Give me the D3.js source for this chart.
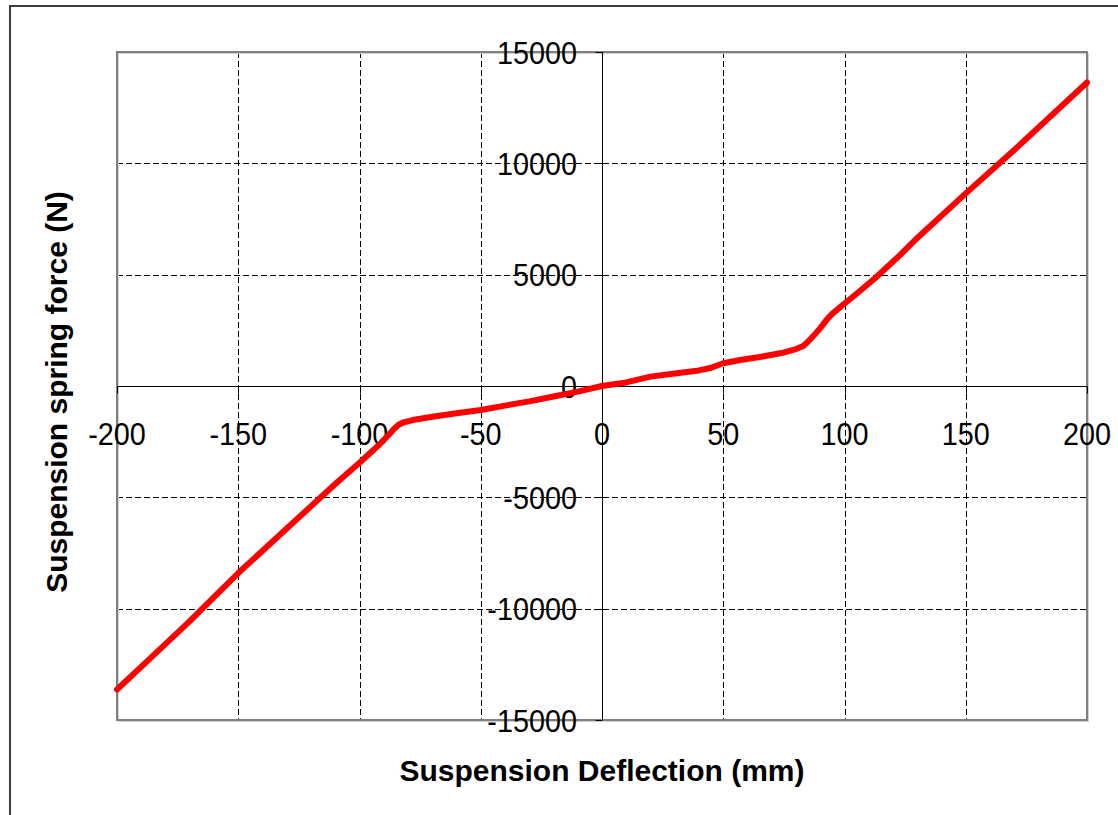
<!DOCTYPE html>
<html>
<head>
<meta charset="utf-8">
<script src="https://cdn.jsdelivr.net/npm/d3@7"></script>
<style>
body{margin:0;background:#fff;}
svg{display:block;font-family:Arial,"Liberation Sans",sans-serif;}
</style>
</head>
<body>
<svg id="c" width="1118" height="815"></svg>
<script>
const deflection = [-200,-185,-170,-150,-130,-110,-100,-92,-88,-86,-84,-82,-78,-70,-60,-50,-40,-30,-20,-10,0,10,20,30,40,45,50,57,65,74,80,83,85,88,90,92.6,95,99.4,104.5,112.8,123,130,150,170,200];
const force = [-13630,-12100,-10560,-8400,-6400,-4400,-3450,-2650,-2200,-1950,-1750,-1640,-1530,-1380,-1220,-1080,-880,-690,-470,-250,0,160,420,560,700,820,1020,1170,1300,1480,1660,1800,2000,2350,2600,2970,3250,3650,4100,4860,5890,6650,8650,10600,13630];
const xTicks = [-200,-150,-100,-50,0,50,100,150,200];
const yTicks = [-15000,-10000,-5000,0,5000,10000,15000];
const xTitle = "Suspension Deflection (mm)";
const yTitle = "Suspension spring force (N)";

const svg = d3.select("#c");
const L = 117, R = 1087, T = 52, B = 720;
const x = d3.scaleLinear().domain([-200,200]).range([L,R]);
const y = d3.scaleLinear().domain([-15000,15000]).range([B,T]);

// outer chart border
svg.append("path").attr("d","M10,830 L10,6 L1130,6").attr("fill","none").attr("stroke","#3a3a3a").attr("stroke-width",2);

// gridlines
svg.append("g").selectAll("line").data(xTicks.filter(d=>d!==0 && d!==-200 && d!==200)).join("line")
  .attr("x1",d=>Math.round(x(d))+0.5).attr("x2",d=>Math.round(x(d))+0.5).attr("y1",T).attr("y2",B)
  .attr("stroke","#000").attr("stroke-width",1).attr("stroke-dasharray","6,3");
svg.append("g").selectAll("line").data(yTicks.filter(d=>d!==0 && d!==15000 && d!==-15000)).join("line")
  .attr("y1",d=>Math.round(y(d))+0.5).attr("y2",d=>Math.round(y(d))+0.5).attr("x1",L).attr("x2",R)
  .attr("stroke","#000").attr("stroke-width",1).attr("stroke-dasharray","6,3");

// plot border
svg.append("rect").attr("x",L+1.5).attr("y",T+1.5).attr("width",R-L).attr("height",B-T).attr("fill","none").attr("stroke","#d0d0d0").attr("stroke-width",1);
svg.append("rect").attr("x",L).attr("y",T).attr("width",R-L).attr("height",B-T).attr("fill","none").attr("stroke","#808080").attr("stroke-width",2);

// zero axes
const x0 = Math.round(x(0))+0.5, y0 = Math.round(y(0))+0.5;
svg.append("line").attr("x1",L).attr("x2",R).attr("y1",y0).attr("y2",y0).attr("stroke","#000").attr("stroke-width",1);
svg.append("line").attr("x1",x0).attr("x2",x0).attr("y1",T).attr("y2",B).attr("stroke","#000").attr("stroke-width",1);

// ticks
svg.append("g").selectAll("line").data(yTicks).join("line")
  .attr("x1",x0-7).attr("x2",x0).attr("y1",d=>Math.round(y(d))+0.5).attr("y2",d=>Math.round(y(d))+0.5).attr("stroke","#000");
svg.append("g").selectAll("line").data(xTicks).join("line")
  .attr("x1",d=>Math.round(x(d))+0.5).attr("x2",d=>Math.round(x(d))+0.5).attr("y1",y0).attr("y2",y0+7).attr("stroke","#000");

// tick labels (slightly condensed to match reference glyph proportions)
svg.append("g").selectAll("text").data(yTicks).join("text")
  .attr("transform",d=>"translate(577,"+(y(d)+11.5)+") scale(0.9,1)")
  .attr("text-anchor","end").attr("font-size",32).attr("fill","#000").text(d=>d);
svg.append("g").selectAll("text").data(xTicks).join("text")
  .attr("transform",d=>"translate("+x(d)+",445) scale(0.9,1)")
  .attr("text-anchor","middle").attr("font-size",32).attr("fill","#000").text(d=>d);

// titles
svg.append("text").attr("x",x(0)).attr("y",781).attr("text-anchor","middle").attr("font-size",30).attr("font-weight","bold").text(xTitle);
svg.append("text").attr("transform","translate(67,392) rotate(-90)").attr("text-anchor","middle").attr("font-size",30).attr("font-weight","bold").text(yTitle);

// curve
const pts = deflection.map((d,i)=>[d,force[i]]);
svg.append("path").datum(pts)
  .attr("d",d3.line().x(d=>x(d[0])).y(d=>y(d[1])))
  .attr("fill","none").attr("stroke","#ff0000").attr("stroke-width",6).attr("stroke-linejoin","round").attr("stroke-linecap","round");
</script>
</body>
</html>
